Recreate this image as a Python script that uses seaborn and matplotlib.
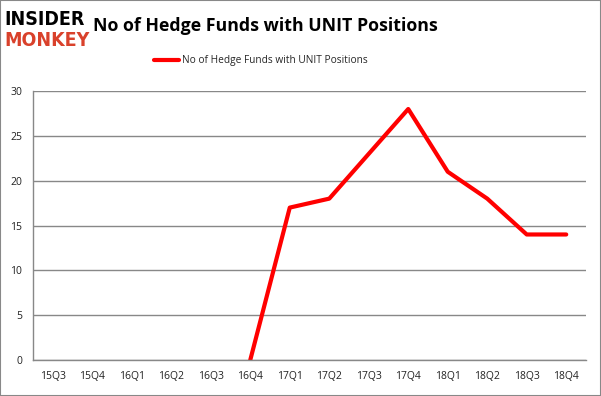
import matplotlib
matplotlib.use("Agg")
import matplotlib.pyplot as plt
from matplotlib.patches import Rectangle
import seaborn as sns
import numpy as np
import pandas as pd

quarters = ["15Q3", "15Q4", "16Q1", "16Q2", "16Q3", "16Q4", "17Q1",
            "17Q2", "17Q3", "17Q4", "18Q1", "18Q2", "18Q3", "18Q4"]
funds = [np.nan, np.nan, np.nan, np.nan, np.nan, 0, 17,
         18, 23, 28, 21, 18, 14, 14]
y_ticks = [0, 5, 10, 15, 20, 25, 30]
series_name = "No of Hedge Funds with UNIT Positions"

df = pd.DataFrame({"pos": range(len(quarters)), "funds": funds}).dropna()

sns.set_theme(style="white")
plt.rcParams["font.family"] = ["Open Sans", "DejaVu Sans"]

fig = plt.figure(figsize=(6.01, 3.96), dpi=100)
ax = fig.add_axes([0.055, 0.091, 0.92, 0.679])

sns.lineplot(data=df, x="pos", y="funds", ax=ax, color="#ff0000",
             linewidth=3, label=series_name, legend=False)

grid_c = "#888888"
ax.set_xlim(-0.5, len(quarters) - 0.5)
ax.set_ylim(0, 30)
ax.set_yticks(y_ticks)
ax.yaxis.grid(True, color=grid_c, linewidth=1)
ax.set_axisbelow(True)
ax.set_xticks(range(len(quarters)))
ax.set_xticklabels(quarters)
ax.set_xticks(np.arange(-0.5, len(quarters)), minor=True)
ax.tick_params(axis="x", which="major", length=0, pad=8, labelsize=7.5, colors="#222222")
ax.tick_params(axis="x", which="minor", length=5, color=grid_c, width=1)
ax.tick_params(axis="y", length=5, color=grid_c, width=1, labelsize=7.5,
               labelcolor="#222222", pad=3)
ax.set_xlabel("")
ax.set_ylabel("")
for side in ["top", "right"]:
    ax.spines[side].set_visible(False)
for side in ["left", "bottom"]:
    ax.spines[side].set_color(grid_c)
    ax.spines[side].set_linewidth(1)

handles, labels = ax.get_legend_handles_labels()
fig.legend(handles, labels, loc="center", bbox_to_anchor=(0.434, 0.846),
           frameon=False, fontsize=7.3, handlelength=2.5, handletextpad=0.3)

fig.text(0.155, 0.935, "No of Hedge Funds with UNIT Positions", fontsize=12.8,
         fontweight="bold", va="center", ha="left", color="black")
fig.text(0.008, 0.950, "INSIDER", fontsize=14, fontweight="heavy", stretch="condensed",
         va="center", ha="left", color="black", family="DejaVu Sans")
fig.text(0.008, 0.897, "MONKEY", fontsize=14, fontweight="heavy", stretch="condensed",
         va="center", ha="left", color="#d9412b", family="DejaVu Sans")

fig.patches.append(Rectangle((0, 0), 1, 1, transform=fig.transFigure, fill=False,
                             edgecolor="#888888", linewidth=1.5))

fig.savefig("out.png", dpi=100, facecolor="white")
